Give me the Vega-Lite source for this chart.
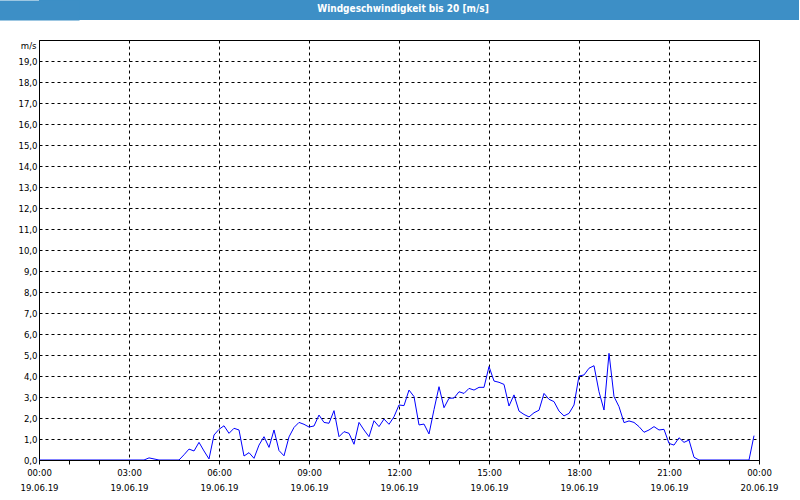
{
  "$schema": "https://vega.github.io/schema/vega-lite/v6.json",
  "padding": 0,
  "spacing": 19,
  "background": "white",
  "config": {
    "font": "DejaVu Sans Condensed",
    "axis": {
      "labelFont": "DejaVu Sans Condensed",
      "labelFontSize": 9.5,
      "labelColor": "black",
      "domainColor": "black",
      "tickColor": "black",
      "gridColor": "black",
      "gridDash": [3, 3],
      "gridWidth": 1,
      "titleFont": "DejaVu Sans Condensed",
      "titleFontWeight": "normal",
      "titleColor": "black"
    }
  },
  "vconcat": [
    {
      "width": 760,
      "height": 20,
      "view": {"fill": "#3d8fc6", "stroke": null},
      "data": {"values": [{"title": "Windgeschwindigkeit bis 20 [m/s]"}]},
      "mark": {"type": "text", "color": "white", "font": "DejaVu Sans Condensed", "fontWeight": "bold", "fontSize": 10, "baseline": "middle", "align": "center", "dx": -16, "dy": -1},
      "encoding": {
        "text": {"field": "title"},
        "y": {
          "field": "title",
          "type": "nominal",
          "scale": {"type": "point", "padding": 0.5},
          "axis": {"title": null, "labels": false, "ticks": false, "grid": false, "domain": true, "domainColor": "#3d8fc6", "domainWidth": 80, "domainCap": "butt", "minExtent": 38, "maxExtent": 38}
        }
      }
    },
    {
      "width": 720,
      "height": 420,
      "view": {"stroke": "black", "strokeWidth": 1, "fill": "white"},
      "data": {"values": [
        {"t":"2019-06-19T00:00","v":0},{"t":"2019-06-19T00:10","v":0},{"t":"2019-06-19T00:20","v":0},{"t":"2019-06-19T00:30","v":0},{"t":"2019-06-19T00:40","v":0},{"t":"2019-06-19T00:50","v":0},
        {"t":"2019-06-19T01:00","v":0},{"t":"2019-06-19T01:10","v":0},{"t":"2019-06-19T01:20","v":0},{"t":"2019-06-19T01:30","v":0},{"t":"2019-06-19T01:40","v":0},{"t":"2019-06-19T01:50","v":0},
        {"t":"2019-06-19T02:00","v":0},{"t":"2019-06-19T02:10","v":0},{"t":"2019-06-19T02:20","v":0},{"t":"2019-06-19T02:30","v":0},{"t":"2019-06-19T02:40","v":0},{"t":"2019-06-19T02:50","v":0},
        {"t":"2019-06-19T03:00","v":0},{"t":"2019-06-19T03:10","v":0},{"t":"2019-06-19T03:20","v":0},{"t":"2019-06-19T03:30","v":0},{"t":"2019-06-19T03:40","v":0.1},{"t":"2019-06-19T03:50","v":0.05},
        {"t":"2019-06-19T04:00","v":0},{"t":"2019-06-19T04:10","v":0},{"t":"2019-06-19T04:20","v":0},{"t":"2019-06-19T04:30","v":0},{"t":"2019-06-19T04:40","v":0},{"t":"2019-06-19T04:50","v":0.25},
        {"t":"2019-06-19T05:00","v":0.52},{"t":"2019-06-19T05:10","v":0.43},{"t":"2019-06-19T05:20","v":0.84},{"t":"2019-06-19T05:30","v":0.43},{"t":"2019-06-19T05:40","v":0.05},{"t":"2019-06-19T05:50","v":1.19},
        {"t":"2019-06-19T06:00","v":1.46},{"t":"2019-06-19T06:10","v":1.63},{"t":"2019-06-19T06:20","v":1.27},{"t":"2019-06-19T06:30","v":1.51},{"t":"2019-06-19T06:40","v":1.43},{"t":"2019-06-19T06:50","v":0.19},
        {"t":"2019-06-19T07:00","v":0.35},{"t":"2019-06-19T07:10","v":0.08},{"t":"2019-06-19T07:20","v":0.71},{"t":"2019-06-19T07:30","v":1.11},{"t":"2019-06-19T07:40","v":0.6},{"t":"2019-06-19T07:50","v":1.43},
        {"t":"2019-06-19T08:00","v":0.45},{"t":"2019-06-19T08:10","v":0.2},{"t":"2019-06-19T08:20","v":1.1},{"t":"2019-06-19T08:30","v":1.55},{"t":"2019-06-19T08:40","v":1.79},{"t":"2019-06-19T08:50","v":1.7},
        {"t":"2019-06-19T09:00","v":1.57},{"t":"2019-06-19T09:10","v":1.62},{"t":"2019-06-19T09:20","v":2.14},{"t":"2019-06-19T09:30","v":1.79},{"t":"2019-06-19T09:40","v":1.75},{"t":"2019-06-19T09:50","v":2.35},
        {"t":"2019-06-19T10:00","v":1.11},{"t":"2019-06-19T10:10","v":1.35},{"t":"2019-06-19T10:20","v":1.27},{"t":"2019-06-19T10:30","v":0.75},{"t":"2019-06-19T10:40","v":1.79},{"t":"2019-06-19T10:50","v":1.43},
        {"t":"2019-06-19T11:00","v":1.11},{"t":"2019-06-19T11:10","v":1.87},{"t":"2019-06-19T11:20","v":1.59},{"t":"2019-06-19T11:30","v":1.95},{"t":"2019-06-19T11:40","v":1.7},{"t":"2019-06-19T11:50","v":2.06},
        {"t":"2019-06-19T12:00","v":2.62},{"t":"2019-06-19T12:10","v":2.59},{"t":"2019-06-19T12:20","v":3.33},{"t":"2019-06-19T12:30","v":3.02},{"t":"2019-06-19T12:40","v":1.67},{"t":"2019-06-19T12:50","v":1.71},
        {"t":"2019-06-19T13:00","v":1.24},{"t":"2019-06-19T13:10","v":2.4},{"t":"2019-06-19T13:20","v":3.49},{"t":"2019-06-19T13:30","v":2.49},{"t":"2019-06-19T13:40","v":2.94},{"t":"2019-06-19T13:50","v":2.95},
        {"t":"2019-06-19T14:00","v":3.25},{"t":"2019-06-19T14:10","v":3.17},{"t":"2019-06-19T14:20","v":3.41},{"t":"2019-06-19T14:30","v":3.33},{"t":"2019-06-19T14:40","v":3.46},{"t":"2019-06-19T14:50","v":3.46},
        {"t":"2019-06-19T15:00","v":4.45},{"t":"2019-06-19T15:10","v":3.76},{"t":"2019-06-19T15:20","v":3.7},{"t":"2019-06-19T15:30","v":3.6},{"t":"2019-06-19T15:40","v":2.57},{"t":"2019-06-19T15:50","v":3.1},
        {"t":"2019-06-19T16:00","v":2.33},{"t":"2019-06-19T16:10","v":2.17},{"t":"2019-06-19T16:20","v":2.05},{"t":"2019-06-19T16:30","v":2.25},{"t":"2019-06-19T16:40","v":2.37},{"t":"2019-06-19T16:50","v":3.17},
        {"t":"2019-06-19T17:00","v":2.89},{"t":"2019-06-19T17:10","v":2.78},{"t":"2019-06-19T17:20","v":2.33},{"t":"2019-06-19T17:30","v":2.1},{"t":"2019-06-19T17:40","v":2.22},{"t":"2019-06-19T17:50","v":2.62},
        {"t":"2019-06-19T18:00","v":4.0},{"t":"2019-06-19T18:10","v":4.05},{"t":"2019-06-19T18:20","v":4.37},{"t":"2019-06-19T18:30","v":4.49},{"t":"2019-06-19T18:40","v":3.25},{"t":"2019-06-19T18:50","v":2.38},
        {"t":"2019-06-19T19:00","v":5.08},{"t":"2019-06-19T19:10","v":3.02},{"t":"2019-06-19T19:20","v":2.54},{"t":"2019-06-19T19:30","v":1.78},{"t":"2019-06-19T19:40","v":1.86},{"t":"2019-06-19T19:50","v":1.79},
        {"t":"2019-06-19T20:00","v":1.59},{"t":"2019-06-19T20:10","v":1.32},{"t":"2019-06-19T20:20","v":1.43},{"t":"2019-06-19T20:30","v":1.59},{"t":"2019-06-19T20:40","v":1.43},{"t":"2019-06-19T20:50","v":1.46},
        {"t":"2019-06-19T21:00","v":0.79},{"t":"2019-06-19T21:10","v":0.71},{"t":"2019-06-19T21:20","v":1.06},{"t":"2019-06-19T21:30","v":0.84},{"t":"2019-06-19T21:40","v":0.95},{"t":"2019-06-19T21:50","v":0.13},
        {"t":"2019-06-19T22:00","v":0},{"t":"2019-06-19T22:10","v":0},{"t":"2019-06-19T22:20","v":0},{"t":"2019-06-19T22:30","v":0},{"t":"2019-06-19T22:40","v":0},{"t":"2019-06-19T22:50","v":0},
        {"t":"2019-06-19T23:00","v":0},{"t":"2019-06-19T23:10","v":0},{"t":"2019-06-19T23:20","v":0},{"t":"2019-06-19T23:30","v":0},{"t":"2019-06-19T23:40","v":0},{"t":"2019-06-19T23:50","v":1.16}
      ]},
      "mark": {"type": "line", "color": "#0000ff", "strokeWidth": 1, "clip": true},
      "encoding": {
        "x": {
          "field": "t",
          "type": "temporal",
          "scale": {"domain": [{"year": 2019, "month": 6, "date": 19, "hours": 0}, {"year": 2019, "month": 6, "date": 20, "hours": 0}], "nice": false},
          "axis": {
            "title": null,
            "values": [
              {"year": 2019, "month": 6, "date": 19, "hours": 0},{"year": 2019, "month": 6, "date": 19, "hours": 1},{"year": 2019, "month": 6, "date": 19, "hours": 2},
              {"year": 2019, "month": 6, "date": 19, "hours": 3},{"year": 2019, "month": 6, "date": 19, "hours": 4},{"year": 2019, "month": 6, "date": 19, "hours": 5},
              {"year": 2019, "month": 6, "date": 19, "hours": 6},{"year": 2019, "month": 6, "date": 19, "hours": 7},{"year": 2019, "month": 6, "date": 19, "hours": 8},
              {"year": 2019, "month": 6, "date": 19, "hours": 9},{"year": 2019, "month": 6, "date": 19, "hours": 10},{"year": 2019, "month": 6, "date": 19, "hours": 11},
              {"year": 2019, "month": 6, "date": 19, "hours": 12},{"year": 2019, "month": 6, "date": 19, "hours": 13},{"year": 2019, "month": 6, "date": 19, "hours": 14},
              {"year": 2019, "month": 6, "date": 19, "hours": 15},{"year": 2019, "month": 6, "date": 19, "hours": 16},{"year": 2019, "month": 6, "date": 19, "hours": 17},
              {"year": 2019, "month": 6, "date": 19, "hours": 18},{"year": 2019, "month": 6, "date": 19, "hours": 19},{"year": 2019, "month": 6, "date": 19, "hours": 20},
              {"year": 2019, "month": 6, "date": 19, "hours": 21},{"year": 2019, "month": 6, "date": 19, "hours": 22},{"year": 2019, "month": 6, "date": 19, "hours": 23},
              {"year": 2019, "month": 6, "date": 20, "hours": 0}
            ],
            "labelExpr": "hours(datum.value) % 3 == 0 ? [timeFormat(datum.value, '%H:%M'), timeFormat(datum.value, '%d.%m.%y')] : ''",
            "labelAngle": 0,
            "labelAlign": "center",
            "labelBaseline": "top",
            "labelLineHeight": 15,
            "labelPadding": 3,
            "labelOverlap": false,
            "labelFlush": false,
            "ticks": true,
            "tickSize": 4,
            "grid": true,
            "gridOpacity": {"condition": {"test": "hours(datum.value) % 3 == 0", "value": 1}, "value": 0}
          }
        },
        "y": {
          "field": "v",
          "type": "quantitative",
          "scale": {"domain": [0, 20], "nice": false, "zero": true},
          "axis": {
            "title": "m/s",
            "titleAngle": 0,
            "titleX": -3,
            "titleY": 5,
            "titleAlign": "right",
            "titleBaseline": "middle",
            "titleFontSize": 9.5,
            "values": [0,1,2,3,4,5,6,7,8,9,10,11,12,13,14,15,16,17,18,19],
            "labelExpr": "replace(format(datum.value, '.1f'), '.', ',')",
            "ticks": false,
            "labelPadding": 2,
            "grid": true,
            "minExtent": 38,
            "maxExtent": 38
          }
        }
      }
    }
  ]
}
